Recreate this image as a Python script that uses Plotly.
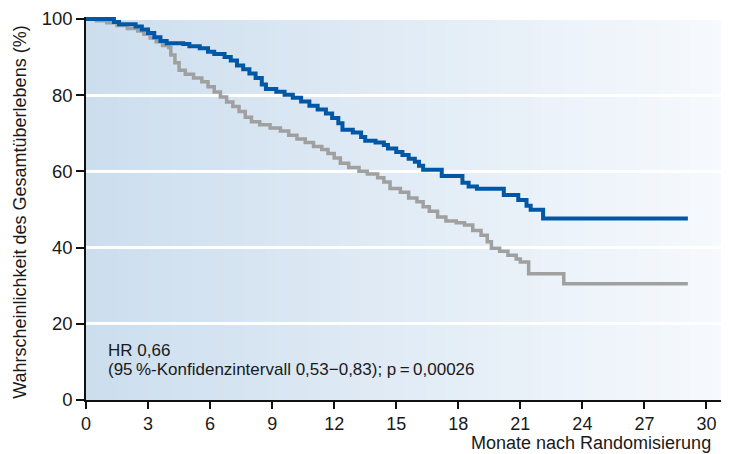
import plotly.graph_objects as go

# Kaplan-Meier data (months, survival %)
blue_t = [0, 1.35, 1.6, 2.4, 2.7, 3.0, 3.3, 3.6, 3.9, 4.7, 5.0, 5.5, 5.9, 6.2, 6.7, 7.0, 7.3, 7.6,
          7.9, 8.2, 8.5, 8.7, 9.2, 9.6, 10.0, 10.4, 10.8, 11.2, 11.6, 11.9, 12.2, 12.4, 12.9, 13.3,
          13.5, 14.0, 14.4, 14.6, 15.0, 15.3, 15.6, 15.9, 16.1, 16.3, 17.2, 18.2, 18.5, 18.9, 20.2,
          20.9, 21.3, 21.5, 22.1, 29.1]
blue_s = [100, 99.2, 98.6, 98.0, 97.2, 96.3, 95.2, 94.2, 93.6, 93.4, 92.8, 92.3, 91.4, 90.8, 90.0,
          89.1, 87.8, 86.8, 85.7, 84.5, 82.8, 81.6, 80.9, 80.1, 79.3, 78.3, 77.2, 76.2, 75.2, 74.0,
          72.6, 70.9, 70.2, 69.0, 68.0, 67.6, 66.9, 66.0, 65.1, 64.3, 63.3, 62.5, 61.5, 60.4, 58.8,
          57.0, 56.0, 55.4, 53.8, 52.5, 51.0, 49.9, 47.6, 47.6]

gray_t = [0, 0.5, 1.0, 1.5, 2.0, 2.5, 2.8, 3.1, 3.4, 3.7, 4.0, 4.1, 4.3, 4.5, 4.8, 5.2, 5.6, 5.9,
          6.2, 6.5, 6.8, 7.1, 7.4, 7.7, 8.0, 8.4, 8.9, 9.4, 9.8, 10.2, 10.6, 11.0, 11.4, 11.7, 12.0,
          12.3, 12.7, 13.2, 13.6, 14.1, 14.4, 14.7, 15.2, 15.6, 16.0, 16.3, 16.6, 17.0, 17.4, 17.9,
          18.3, 18.7, 19.1, 19.4, 19.6, 20.0, 20.4, 20.8, 21.0, 21.4, 23.1, 29.1]
gray_s = [100, 99.5, 99.0, 98.3, 97.5, 96.8, 96.0, 95.0, 94.0, 93.0, 92.5, 90.5, 88.5, 86.5, 85.5,
          84.5, 83.5, 82.2, 80.8, 79.5, 78.2, 77.0, 75.7, 74.2, 73.0, 72.2, 71.4, 70.6, 69.5, 68.5,
          67.6, 66.5, 65.7, 64.7, 63.5, 62.1, 61.0, 60.0, 59.3, 58.3, 57.2, 55.5, 54.5, 53.0, 52.0,
          50.7, 49.5, 48.0, 47.0, 46.5, 45.9, 44.5, 43.2, 41.5, 39.8, 39.0, 38.0, 37.0, 36.2, 33.1,
          30.5, 30.5]

x_ticks = [0, 3, 6, 9, 12, 15, 18, 21, 24, 27, 30]
y_ticks = [0, 20, 40, 60, 80, 100]

FONT = "Liberation Sans, Arial, sans-serif"
TXT = "#1a1a1a"

fig = go.Figure()
fig.add_trace(go.Scatter(x=gray_t, y=gray_s, mode="lines", line=dict(color="#a0a0a0", width=3.5, shape="hv"),
                         showlegend=False, hoverinfo="skip"))
fig.add_trace(go.Scatter(x=blue_t, y=blue_s, mode="lines", line=dict(color="#0057a6", width=4, shape="hv"),
                         showlegend=False, hoverinfo="skip"))

# gradient background strips
n = 60
c0 = (204, 222, 238)
c1 = (246, 249, 253)
shapes = []
for i in range(n):
    f = i / (n - 1)
    col = "rgb(%d,%d,%d)" % tuple(round(c0[k] + (c1[k] - c0[k]) * f) for k in range(3))
    shapes.append(dict(type="rect", xref="paper", yref="paper", x0=i / n, x1=(i + 1) / n + 0.002,
                       y0=0, y1=1, fillcolor=col, line=dict(width=0), layer="below"))

# page body has an 8px margin, so the figure is offset by (8, 8)
PH = 383.0
fig.update_layout(
    width=721, height=446,
    margin=dict(l=78, r=7, t=9, b=54, autoexpand=False),
    paper_bgcolor="white", plot_bgcolor="white",
    shapes=shapes,
    font=dict(family=FONT, size=18, color=TXT),
    xaxis=dict(range=[0, 30.75], tickvals=x_ticks, ticktext=[str(v) for v in x_ticks],
               automargin=False,
               showgrid=False, zeroline=False, showline=True, linecolor="#111", linewidth=1.5,
               ticks="outside", ticklen=7, tickwidth=1.5, tickcolor="#111",
               tickfont=dict(size=18, color=TXT, family=FONT)),
    yaxis=dict(range=[0, 100.5], tickvals=y_ticks, ticktext=[str(v) for v in y_ticks],
               automargin=False,
               showgrid=True, gridcolor="white", gridwidth=2.5, zeroline=False,
               showline=True, linecolor="#111", linewidth=1.5,
               ticks="outside", ticklen=8, tickwidth=1.5, tickcolor="#111",
               tickfont=dict(size=18.5, color=TXT, family=FONT)),
    annotations=[
        dict(text="Wahrscheinlichkeit des Gesamtüberlebens (%)", xref="paper", yref="paper",
             x=-0.104, y=(400 - 212) / PH, xanchor="center", yanchor="middle", textangle=-90,
             showarrow=False, font=dict(size=18, color=TXT, family=FONT)),
        dict(text="Monate nach Randomisierung", xref="paper", yref="paper", x=0.986,
             y=(400 - 443) / PH, xanchor="right", yanchor="middle", showarrow=False,
             font=dict(size=18, color=TXT, family=FONT)),
        dict(text="HR 0,66", xref="paper", yref="paper", x=0.0314, y=(400 - 350) / PH,
             xanchor="left", yanchor="middle", showarrow=False,
             font=dict(size=17, color=TXT, family=FONT)),
        dict(text="(95\u2009%-Konfidenzintervall 0,53\u22120,83); p\u2009=\u20090,00026",
             xref="paper", yref="paper", x=0.0314, y=(400 - 369) / PH, xanchor="left",
             yanchor="middle", showarrow=False, font=dict(size=17, color=TXT, family=FONT)),
    ],
)

fig.write_html("out.html")
